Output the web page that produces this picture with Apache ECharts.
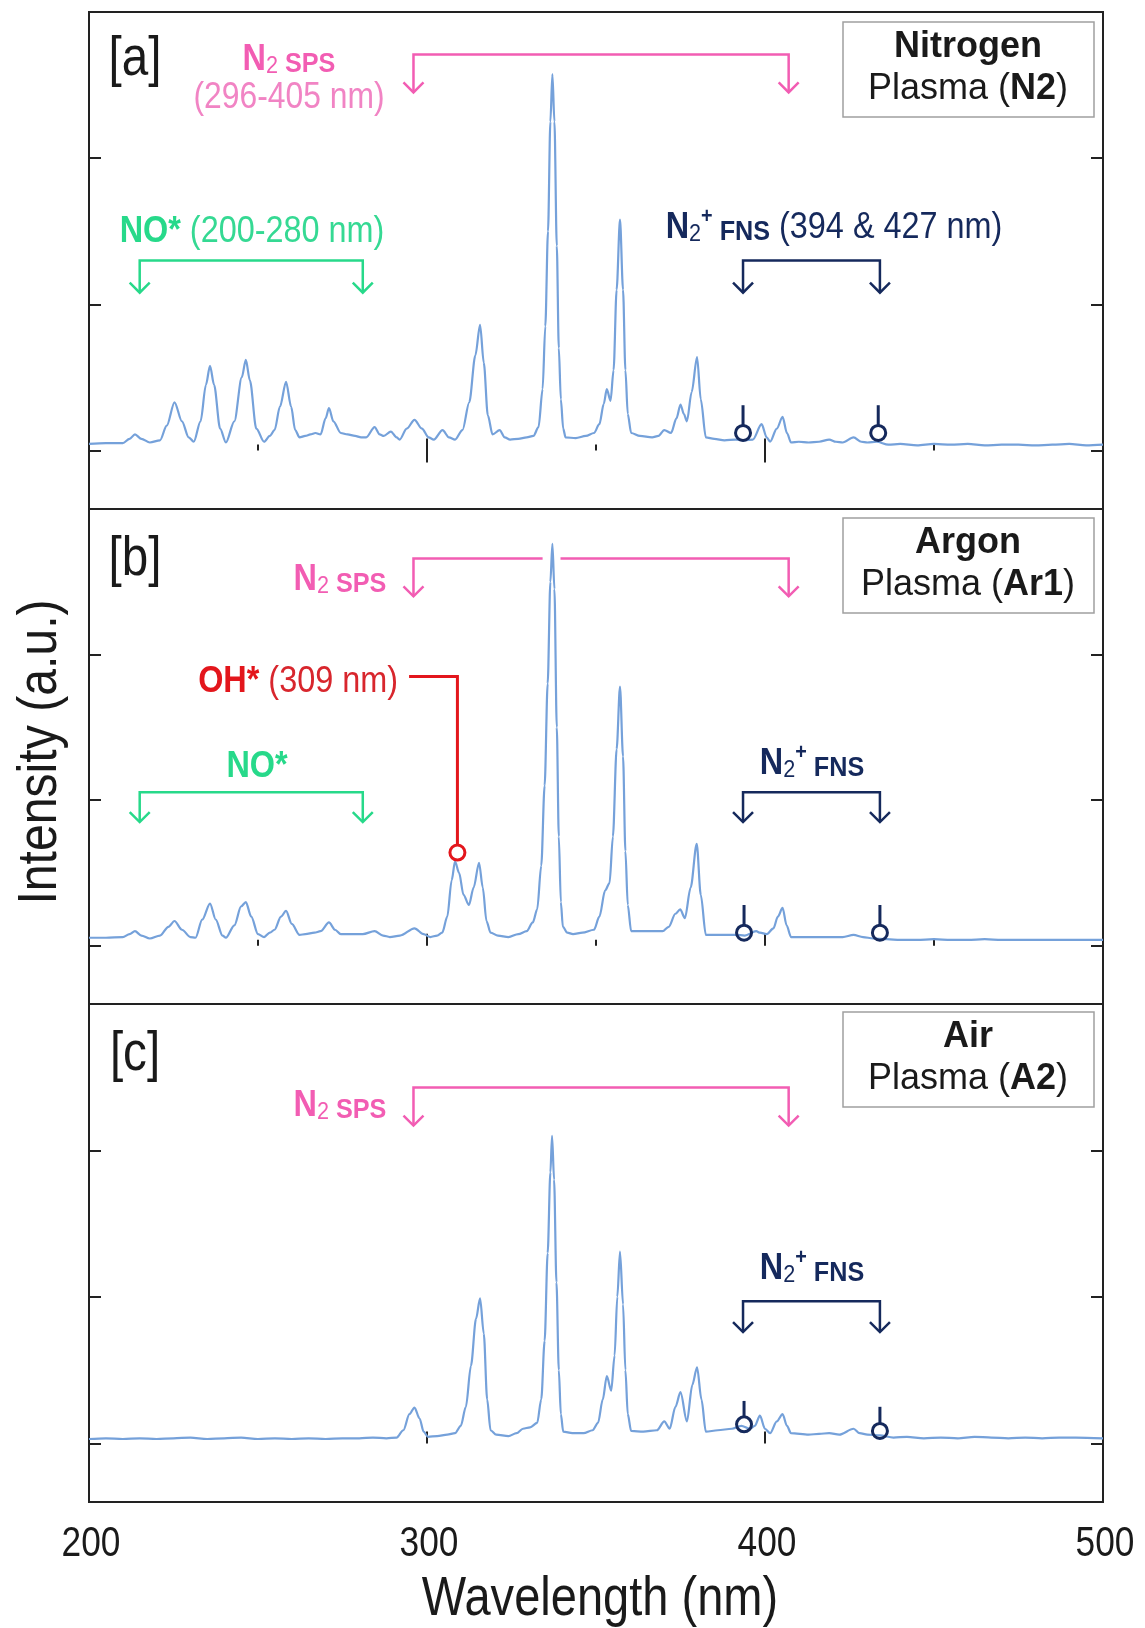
<!DOCTYPE html>
<html>
<head>
<meta charset="utf-8">
<script src="https://cdn.jsdelivr.net/npm/echarts@6/dist/echarts.min.js"></script>
<style>
  html, body { margin: 0; padding: 0; background: #fff; }
  #chart { width: 1145px; height: 1628px; }
</style>
</head>
<body>
<div id="chart"></div>
<script>
// emission spectra, [wavelength nm, intensity a.u.]
const spectrumN2 = [
  [200,0.045],[205,0.05],[210,0.05],[212,0.08],[213.6,0.11],[215.5,0.08],[218,0.055],[221,0.07],[223,0.17],[225.3,0.33],
  [227.5,0.2],[229.5,0.09],[231,0.06],[233,0.2],[234.6,0.45],[235.8,0.58],[237,0.45],[238.8,0.15],[240.5,0.055],[243,0.2],
  [245.2,0.5],[246.4,0.62],[247.6,0.48],[249.5,0.15],[251.8,0.06],[253.5,0.1],[254.9,0.14],[256.5,0.3],[258.3,0.47],[259.8,0.3],
  [261,0.14],[262.3,0.09],[264,0.1],[265.5,0.11],[267,0.12],[268.5,0.11],[270,0.22],[271,0.29],[272.3,0.2],[274.5,0.12],
  [276.5,0.11],[278.7,0.1],[280.5,0.09],[282,0.09],[284.5,0.16],[286,0.11],[287.2,0.1],[289.3,0.13],[291,0.09],[291.9,0.075],
  [294,0.15],[296.3,0.21],[298.5,0.15],[300.5,0.09],[302,0.075],[304.6,0.14],[306.5,0.09],[308.3,0.075],[310.5,0.14],[312.5,0.33],
  [314.3,0.65],[315.7,0.86],[316.8,0.6],[318,0.24],[319.4,0.11],[321.5,0.14],[323,0.09],[324.6,0.075],[327,0.08],[329.5,0.09],
  [331.5,0.1],[333,0.16],[334.2,0.42],[335,0.85],[335.8,1.5],[336.5,2.25],[337.1,2.575],[337.7,2.25],[338.4,1.4],[339,0.7],
  [339.6,0.35],[340.3,0.15],[341,0.09],[344,0.085],[347,0.1],[349.4,0.12],[351,0.18],[352.3,0.32],[353.2,0.42],[354.3,0.34],
  [355.2,0.55],[356.1,1.1],[357.1,1.58],[358,1.1],[358.7,0.55],[359.4,0.25],[360.4,0.12],[363,0.1],[366.6,0.09],[368.5,0.1],
  [370.2,0.14],[372.2,0.12],[373.8,0.22],[375,0.315],[376,0.25],[376.9,0.2],[378.3,0.4],[379.9,0.64],[381,0.35],[382.5,0.09],
  [385,0.08],[388,0.07],[391.3,0.075],[394,0.07],[396.4,0.075],[399,0.18],[400.5,0.09],[401.5,0.06],[403.5,0.15],[405.2,0.23],
  [406.5,0.12],[407.7,0.055],[410,0.06],[412.9,0.055],[416,0.06],[419,0.075],[421,0.06],[423,0.055],[426.2,0.09],[428.5,0.06],
  [430.3,0.055],[433,0.06],[436.5,0.04],[440,0.045],[445,0.035],[450,0.045],[455,0.04],[460,0.045],[465,0.035],[470,0.04],
  [475,0.04],[480,0.035],[485,0.04],[490,0.045],[495,0.035],[500,0.04]
];
const spectrumAr1 = [
  [200,0.055],[205,0.055],[210,0.06],[212,0.08],[213.6,0.1],[215.5,0.07],[218,0.05],[221,0.07],[223.5,0.13],[225.3,0.17],
  [227.5,0.11],[230,0.06],[231.5,0.055],[233.5,0.18],[235.8,0.29],[237.5,0.18],[239.5,0.07],[240.5,0.055],[243,0.14],[245,0.27],
  [246.4,0.3],[248,0.2],[250,0.08],[251.8,0.06],[253.5,0.09],[254.9,0.11],[256.8,0.2],[258.3,0.24],[260,0.15],[262.3,0.075],
  [264,0.08],[266.7,0.09],[268.5,0.1],[271,0.16],[272.8,0.11],[274.5,0.08],[278,0.08],[281,0.08],[284.5,0.1],[287,0.07],
  [289,0.06],[292,0.07],[296.3,0.12],[299,0.08],[301,0.06],[303,0.07],[304.5,0.09],[306,0.2],[307.3,0.45],[308.3,0.58],
  [309.5,0.5],[310.8,0.35],[312.4,0.28],[313.8,0.4],[315.4,0.57],[316.5,0.4],[317.6,0.17],[318.8,0.09],[321,0.07],[324.1,0.06],
  [327,0.08],[329.5,0.1],[331.3,0.16],[332.6,0.25],[333.8,0.55],[334.8,1.1],[335.7,1.8],[336.5,2.5],[337.1,2.76],[337.7,2.45],
  [338.4,1.5],[339,0.75],[339.6,0.3],[340.2,0.13],[341.5,0.09],[343.2,0.08],[346,0.09],[349.4,0.11],[351,0.2],[352.7,0.38],
  [354,0.43],[355,0.75],[356.1,1.35],[357.1,1.78],[358,1.3],[358.7,0.65],[359.4,0.28],[360.4,0.1],[364,0.1],[369.7,0.1],
  [371.5,0.13],[373.5,0.22],[374.9,0.25],[376.3,0.19],[378,0.4],[379.8,0.7],[381,0.35],[382.5,0.075],[386,0.075],[391.3,0.075],
  [394,0.07],[397.4,0.1],[398.5,0.09],[400.5,0.08],[402.5,0.12],[403.8,0.2],[405.2,0.26],[406.4,0.14],[407.7,0.06],[412,0.06],
  [416,0.06],[419,0.06],[423,0.06],[426.2,0.075],[429,0.06],[432,0.05],[436,0.045],[440,0.04],[445,0.04],[450,0.045],
  [455,0.04],[460,0.04],[465,0.045],[470,0.04],[480,0.04],[490,0.04],[500,0.04]
];
const spectrumA2 = [
  [200,0.03],[205,0.035],[210,0.03],[215,0.035],[220,0.03],[225,0.035],[230,0.04],[235,0.03],[240,0.035],[245,0.04],
  [250,0.03],[255,0.035],[260,0.03],[265,0.035],[270,0.03],[275,0.035],[280,0.035],[284,0.04],[288,0.035],[291,0.04],
  [293,0.09],[294.8,0.2],[296.3,0.245],[297.8,0.17],[299,0.08],[300.3,0.045],[303,0.05],[306,0.06],[308.3,0.07],[310,0.12],
  [311.5,0.25],[313,0.53],[314.5,0.85],[315.7,0.99],[316.8,0.75],[317.8,0.3],[318.8,0.09],[320.5,0.06],[324.1,0.05],[326.5,0.07],
  [328.4,0.1],[330.5,0.11],[332.6,0.14],[333.8,0.3],[334.8,0.7],[335.7,1.3],[336.5,1.85],[337,2.1],[337.6,1.8],[338.3,1.1],
  [339,0.5],[339.6,0.2],[340.3,0.08],[343,0.07],[346.3,0.07],[349,0.09],[350.6,0.14],[352,0.3],[353.2,0.46],[354.5,0.36],
  [355.5,0.6],[356.3,1.0],[357.1,1.31],[358,0.95],[358.7,0.5],[359.4,0.2],[360.4,0.085],[364,0.08],[368,0.09],[370.2,0.15],
  [371.8,0.1],[373.5,0.25],[375,0.35],[376.9,0.15],[378.5,0.4],[379.9,0.52],[381.2,0.3],[382.5,0.08],[386,0.09],[390.2,0.1],
  [393,0.12],[395.5,0.1],[397,0.12],[398.5,0.19],[400,0.1],[401.5,0.07],[403.5,0.15],[405.2,0.2],[406.5,0.12],[407.7,0.07],
  [412.9,0.06],[416,0.065],[419,0.07],[422,0.06],[426.2,0.1],[428,0.07],[430.3,0.06],[434,0.055],[438,0.04],[442,0.045],
  [447,0.035],[452,0.04],[457,0.035],[462,0.045],[467,0.04],[472,0.035],[477,0.04],[482,0.035],[487,0.04],[492,0.04],[500,0.035]
];

// wavelength tick labels on the bottom axis
const wavelengthTicks = [200, 300, 400, 500];

// band ranges marked by the brackets (nm)
const sps = [296, 407];
const noBand = [215, 281];
const fns = [393.5, 434];
// [nm, circle height, pin top] per panel
const fnsPinsN2 = [[393.5, 0.12, 0.31], [433.5, 0.12, 0.31]];
const fnsPinsAr1 = [[393.8, 0.09, 0.28], [434, 0.09, 0.28]];
const fnsPinsA2 = [[393.8, 0.13, 0.29], [434, 0.085, 0.25]];
// OH* 309 nm pointer: [nm, circle height, elbow height, start nm]
const ohPointer = [[309, 0.64, 1.85, 294.7]];

// no narrow face installed, so narrow text is squeezed with scaleX
const SANS = "'Liberation Sans', Arial, sans-serif";
const SQUEEZE = 0.84;
const BLUE = '#75a1da';
const PINK = '#f25db3';
const PINK_LIGHT = '#f184c4';
const GREEN = '#27d98a';
const NAVY = '#15295c';
const RED = '#e3161c';
const INK = '#1a1a1a';

const panels = [
  { top: 12, height: 497, minor: true },
  { top: 509, height: 495, minor: true },
  { top: 1004, height: 498, minor: false }
];

const grids = panels.map((p) => ({
  left: 89, width: 1014, top: p.top, height: p.height,
  show: true, borderColor: '#222', borderWidth: 2, backgroundColor: 'transparent'
}));

const xAxes = panels.map((p, i) => ({
  type: 'value', gridIndex: i, position: 'bottom', min: 200, max: 500, interval: 100,
  axisLine: { show: false },
  axisTick: { show: true, inside: true, length: 12, lineStyle: { color: '#222', width: 2 } },
  minorTick: { show: p.minor, splitNumber: 2, length: 6, lineStyle: { color: '#222', width: 2 } },
  splitLine: { show: false },
  axisLabel: { show: false }
}));
xAxes.push({
  type: 'value', gridIndex: 0, position: 'top', min: 200, max: 500, interval: 100,
  axisLine: { show: false },
  axisTick: { show: true, inside: true, length: 12, lineStyle: { color: '#222', width: 2 } },
  splitLine: { show: false }, axisLabel: { show: false }
});

const yAxes = [];
panels.forEach((p, i) => {
  ['left', 'right'].forEach((side) => {
    yAxes.push({
      type: 'value', gridIndex: i, position: side, min: -0.4, max: 3,
      axisLine: { show: false },
      axisTick: { show: true, inside: true, length: 12, customValues: [0, 1, 2], lineStyle: { color: '#222', width: 2 } },
      axisLabel: { show: false }, splitLine: { show: false }
    });
  });
});

function poly(points, style) {
  return { type: 'polyline', shape: { points }, style };
}

function bracketSeries(panel, range, top, tip, color, gap) {
  return {
    type: 'custom', xAxisIndex: panel, yAxisIndex: panel * 2, z: 5, silent: true,
    data: [[range[0], range[1], top, tip]],
    encode: { x: [0, 1], y: [2, 3] },
    renderItem(params, api) {
      const style = { stroke: color, lineWidth: 2.5, fill: null };
      const a = api.coord([api.value(0), api.value(2)]);
      const b = api.coord([api.value(1), api.value(2)]);
      const aTip = api.coord([api.value(0), api.value(3)]);
      const bTip = api.coord([api.value(1), api.value(3)]);
      const children = [];
      if (gap) {
        const g1 = api.coord([gap[0], api.value(2)]);
        const g2 = api.coord([gap[1], api.value(2)]);
        children.push(poly([aTip, a, g1], style), poly([g2, b, bTip], style));
      } else {
        children.push(poly([aTip, a, b, bTip], style));
      }
      [aTip, bTip].forEach((t) => {
        children.push(poly([[t[0] - 10, t[1] - 10], t, [t[0] + 10, t[1] - 10]], style));
      });
      return { type: 'group', children };
    }
  };
}

function pinSeries(panel, pins, color) {
  return {
    type: 'custom', xAxisIndex: panel, yAxisIndex: panel * 2, z: 6, silent: true,
    data: pins, encode: { x: 0, y: [1, 2] },
    renderItem(params, api) {
      const c = api.coord([api.value(0), api.value(1)]);
      const t = api.coord([api.value(0), api.value(2)]);
      const r = 7.5;
      const style = { stroke: color, lineWidth: 3, fill: null };
      return {
        type: 'group',
        children: [
          { type: 'line', shape: { x1: c[0], y1: t[1], x2: c[0], y2: c[1] - r }, style },
          { type: 'circle', shape: { cx: c[0], cy: c[1], r }, style }
        ]
      };
    }
  };
}

function pointerSeries(panel, items, color) {
  return {
    type: 'custom', xAxisIndex: panel, yAxisIndex: panel * 2, z: 6, silent: true,
    data: items, encode: { x: [0, 3], y: [1, 2] },
    renderItem(params, api) {
      const c = api.coord([api.value(0), api.value(1)]);
      const elbow = api.coord([api.value(0), api.value(2)]);
      const start = api.coord([api.value(3), api.value(2)]);
      const r = 7.5;
      const style = { stroke: color, lineWidth: 3, fill: null };
      return {
        type: 'group',
        children: [
          poly([start, elbow, [elbow[0], c[1] - r]], style),
          { type: 'circle', shape: { cx: c[0], cy: c[1], r }, style }
        ]
      };
    }
  };
}

// bottom tick labels, placed through the axis of panel c
const tickLabelSeries = {
  type: 'custom', xAxisIndex: 2, yAxisIndex: 4, z: 10, silent: true, clip: false,
  data: wavelengthTicks.map((v) => [v, -0.4]),
  encode: { x: 0, y: 1 },
  renderItem(params, api) {
    const p = api.coord([api.value(0), api.value(1)]);
    return {
      type: 'text', x: p[0] + 2, y: p[1] + 42, scaleX: SQUEEZE,
      style: { text: String(api.value(0)), font: '42px ' + SANS, fill: INK,
        align: 'center', verticalAlign: 'middle' }
    };
  }
};

const spectra = [spectrumN2, spectrumAr1, spectrumA2];
const series = spectra.map((d, i) => ({
  type: 'line', xAxisIndex: i, yAxisIndex: i * 2, data: d, z: 3,
  showSymbol: false, smooth: 0.3, smoothMonotone: 'x', silent: true,
  lineStyle: { color: BLUE, width: 2.2 }
}));

series.push(
  bracketSeries(0, sps, 2.71, 2.45, PINK),
  bracketSeries(0, noBand, 1.30, 1.08, GREEN),
  bracketSeries(0, fns, 1.30, 1.08, NAVY),
  pinSeries(0, fnsPinsN2, NAVY),
  bracketSeries(1, sps, 2.66, 2.40, PINK, [334.2, 339.5]),
  bracketSeries(1, noBand, 1.055, 0.85, GREEN),
  bracketSeries(1, fns, 1.055, 0.85, NAVY),
  pinSeries(1, fnsPinsAr1, NAVY),
  pointerSeries(1, ohPointer, RED),
  bracketSeries(2, sps, 2.43, 2.17, PINK),
  bracketSeries(2, fns, 0.97, 0.76, NAVY),
  pinSeries(2, fnsPinsA2, NAVY),
  tickLabelSeries
);

// rich text styles for species names (N2 SPS, N2+ FNS ...)
function speciesRich(color, light) {
  return {
    b: { fontFamily: SANS, fontWeight: 'bold', fontSize: 36, fill: color, color, lineHeight: 40, verticalAlign: 'bottom' },
    sub: { fontFamily: SANS, fontSize: 24, fill: color, color, lineHeight: 20, verticalAlign: 'bottom' },
    sup: { fontFamily: SANS, fontWeight: 'bold', fontSize: 22, fill: color, color, lineHeight: 24, verticalAlign: 'top' },
    sm: { fontFamily: SANS, fontWeight: 'bold', fontSize: 28, fill: color, color, lineHeight: 35, verticalAlign: 'bottom' },
    r: { fontFamily: SANS, fontSize: 36, fill: light || color, color: light || color, lineHeight: 40, verticalAlign: 'bottom' }
  };
}

function richText(x, y, text, rich, align, scaleX) {
  return {
    type: 'text', x, y, silent: true, z: 20, scaleX: scaleX || 1,
    style: { text, rich, align: align || 'center', textAlign: align || 'center', verticalAlign: 'middle', textVerticalAlign: 'middle' }
  };
}

function plainText(x, y, text, font, color, scaleX, rotation) {
  return {
    type: 'text', x, y, rotation: rotation || 0, scaleX: scaleX || 1, silent: true, z: 20,
    style: { text, font, fill: color, align: 'center', textAlign: 'center', verticalAlign: 'middle', textVerticalAlign: 'middle' }
  };
}

const legendRich = {
  b: { fontFamily: SANS, fontWeight: 'bold', fontSize: 36, fill: INK, color: INK },
  r: { fontFamily: SANS, fontSize: 36, fill: INK, color: INK }
};

function legendBox(top, gas, code) {
  return [
    { type: 'rect', z: 15, silent: true, shape: { x: 843, y: top, width: 251, height: 95 },
      style: { fill: '#fff', stroke: '#a0a0a0', lineWidth: 1.5 } },
    richText(968, top + 25, '{b|' + gas + '}', legendRich),
    richText(968, top + 67, '{r|Plasma (}{b|' + code + '}{r|)}', legendRich)
  ];
}

const pinkRich = speciesRich(PINK);
const greenRich = speciesRich(GREEN, '#35d993');
const navyRich = speciesRich(NAVY);
const redRich = speciesRich(RED, '#d8262d');
const ANNO = 0.9;

const graphic = [].concat(
  plainText(41, 752, 'Intensity (a.u.)', '56px ' + SANS, INK, 0.86, Math.PI / 2),
  plainText(600, 1600, 'Wavelength (nm)', '56px ' + SANS, INK, SQUEEZE),
  plainText(135, 60, '[a]', '56px ' + SANS, INK, 0.85),
  plainText(135, 560, '[b]', '56px ' + SANS, INK, 0.85),
  plainText(135, 1055, '[c]', '56px ' + SANS, INK, 0.85),
  legendBox(22, 'Nitrogen', 'N2'),
  legendBox(518, 'Argon', 'Ar1'),
  legendBox(1012, 'Air', 'A2'),
  // panel a
  richText(289, 58, '{b|N}{sub|2}{sm| SPS}', pinkRich, 'center', ANNO),
  plainText(289, 98, '(296-405 nm)', '37px ' + SANS, PINK_LIGHT, 0.86),
  richText(252, 230, '{b|NO*}{r| (200-280 nm)}', greenRich, 'center', ANNO),
  richText(834, 226, '{b|N}{sub|2}{sup|+}{sm| FNS}{r| (394 & 427 nm)}', navyRich, 'center', ANNO),
  // panel b
  richText(340, 578, '{b|N}{sub|2}{sm| SPS}', pinkRich, 'center', ANNO),
  richText(398, 680, '{b|OH*}{r| (309 nm)}', redRich, 'right', ANNO),
  richText(257, 765, '{b|NO*}', greenRich, 'center', ANNO),
  richText(812, 762, '{b|N}{sub|2}{sup|+}{sm| FNS}', navyRich, 'center', ANNO),
  // panel c
  richText(340, 1104, '{b|N}{sub|2}{sm| SPS}', pinkRich, 'center', ANNO),
  richText(812, 1267, '{b|N}{sub|2}{sup|+}{sm| FNS}', navyRich, 'center', ANNO)
);

const chart = echarts.init(document.getElementById('chart'));
chart.setOption({
  animation: false,
  backgroundColor: '#fff',
  grid: grids,
  xAxis: xAxes,
  yAxis: yAxes,
  series,
  graphic
});
</script>
</body>
</html>
